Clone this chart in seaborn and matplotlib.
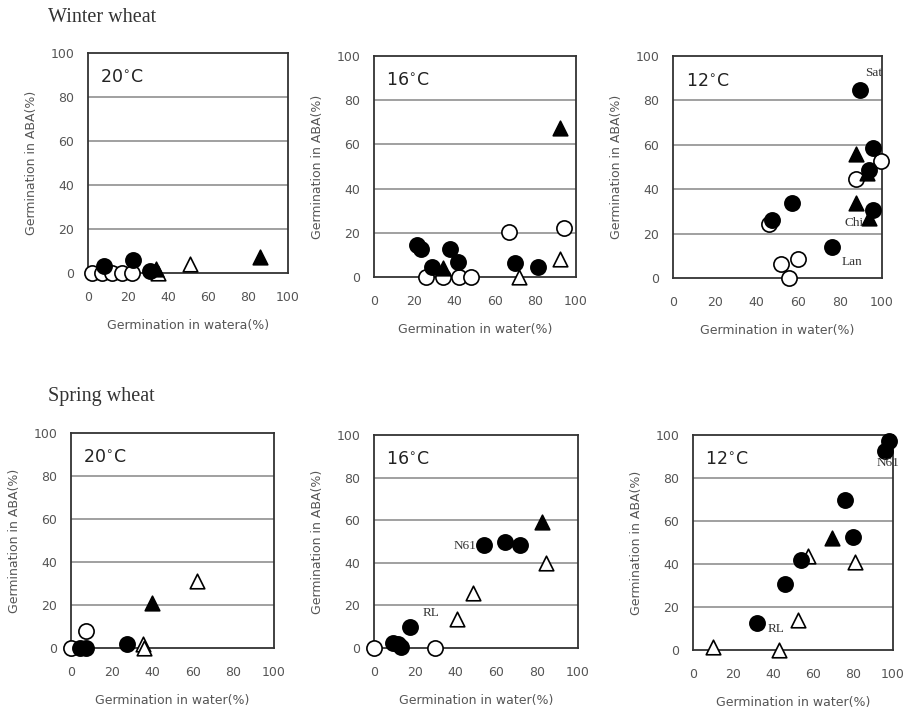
import pandas as pd
import matplotlib.pyplot as plt
import seaborn as sns

sns.set_style("white")
plt.rcParams['font.family'] = ['DejaVu Sans']

# marker kinds: fc = filled circle, oc = open circle, ft = filled triangle, ot = open triangle
# Winter wheat, 20C
w20_x = [2, 7, 12, 17, 22, 8, 22.5, 31, 34, 35, 51, 86]
w20_y = [0, 0, 0, 0, 0, 3, 6, 1, 2, 0, 4, 7.5]
w20_k = ['oc', 'oc', 'oc', 'oc', 'oc', 'fc', 'fc', 'fc', 'ft', 'ot', 'ot', 'ft']

# Winter wheat, 16C
w16_x = [21.5, 23.5, 28.5, 37.5, 41.5, 70, 81, 34, 92, 25.5, 34, 42, 48, 67, 94, 72, 92]
w16_y = [14.5, 12.5, 4.5, 12.5, 7, 6.5, 4.5, 4, 67.5, 0, 0, 0, 0, 20.5, 22, 0, 8]
w16_k = ['fc', 'fc', 'fc', 'fc', 'fc', 'fc', 'fc', 'ft', 'ft', 'oc', 'oc', 'oc', 'oc', 'oc', 'oc', 'ot', 'ot']

# Winter wheat, 12C
w12_x = [89.5, 95.5, 94, 95.5, 57, 47.5, 76, 87.5, 93, 87.5, 94, 99.5, 87.5, 46, 51.5, 60, 55.5]
w12_y = [84.5, 58.5, 48.5, 30.5, 34, 26, 14, 56, 47.5, 34, 27, 52.5, 44.5, 24.5, 6.5, 8.5, 0]
w12_k = ['fc', 'fc', 'fc', 'fc', 'fc', 'fc', 'fc', 'ft', 'ft', 'ft', 'ft', 'oc', 'oc', 'oc', 'oc', 'oc', 'oc']

# Spring wheat, 20C
s20_x = [4.5, 7.5, 27.5, 40, 0, 7.5, 35.5, 36, 62]
s20_y = [0, 0, 2, 21, 0, 8, 2, 0, 31]
s20_k = ['fc', 'fc', 'fc', 'ft', 'oc', 'oc', 'ot', 'ot', 'ot']

# Spring wheat, 16C
s16_x = [54, 64, 71.5, 17.5, 9.5, 12, 13, 82.5, 0, 30, 84.5, 48.5, 40.5]
s16_y = [48.5, 50, 48.5, 10, 2.5, 2, 0.5, 59, 0, 0, 40, 26, 13.5]
s16_k = ['fc', 'fc', 'fc', 'fc', 'fc', 'fc', 'fc', 'ft', 'oc', 'oc', 'ot', 'ot', 'ot']

# Spring wheat, 12C
s12_x = [98, 96, 76, 80, 54, 46, 32, 69.5, 57.5, 81, 52.5, 10, 43]
s12_y = [97, 92.5, 70, 52.5, 42, 30.5, 12.5, 52, 43.5, 41, 14, 1.5, 0]
s12_k = ['fc', 'fc', 'fc', 'fc', 'fc', 'fc', 'fc', 'ft', 'ot', 'ot', 'ot', 'ot', 'ot']

# cultivar labels (text, x, y)
w12_labels = [('Sat', 92, 91), ('Chi', 82, 23.5), ('Lan', 80.5, 6)]
s16_labels = [('N61', 39, 46.5), ('RL', 24, 15)]
s12_labels = [('N61', 92, 85.5), ('RL', 37.5, 8.5)]

styles = {
    'fc': dict(marker='o', facecolor='black', edgecolor='black'),
    'oc': dict(marker='o', facecolor='white', edgecolor='black'),
    'ft': dict(marker='^', facecolor='black', edgecolor='black'),
    'ot': dict(marker='^', facecolor='white', edgecolor='black'),
}

panels = [
    (w20_x, w20_y, w20_k, '20', 'Germination in watera(%)', [], [88, 53, 288, 273]),
    (w16_x, w16_y, w16_k, '16', 'Germination in water(%)', [], [374, 56, 576, 277]),
    (w12_x, w12_y, w12_k, '12', 'Germination in water(%)', w12_labels, [673, 56, 882, 278]),
    (s20_x, s20_y, s20_k, '20', 'Germination in water(%)', [], [71, 433, 274, 648]),
    (s16_x, s16_y, s16_k, '16', 'Germination in water(%)', s16_labels, [374, 435, 578, 648]),
    (s12_x, s12_y, s12_k, '12', 'Germination in water(%)', s12_labels, [693, 435, 893, 650]),
]

W, H = 909, 712
fig = plt.figure(figsize=(W / 100, H / 100), dpi=100)

for xs, ys, ks, temp, xlabel, labels, box in panels:
    l, t, r, b = box
    ax = fig.add_axes([l / W, 1 - b / H, (r - l) / W, (b - t) / H])
    df = pd.DataFrame({'water': xs, 'aba': ys, 'kind': ks})
    for kind in ['oc', 'ot', 'fc', 'ft']:
        sub = df[df['kind'] == kind]
        if len(sub) == 0:
            continue
        st = styles[kind]
        sns.scatterplot(data=sub, x='water', y='aba', ax=ax, marker=st['marker'],
                        facecolor=st['facecolor'], edgecolor=st['edgecolor'],
                        linewidth=1.2, s=120 if st['marker'] == 'o' else 110,
                        clip_on=False, zorder=3)
    for txt, lx, ly in labels:
        ax.text(lx, ly, txt, fontsize=9.5, family='Liberation Serif', color='#333333', zorder=4)

    ax.set_xlim(0, 100)
    ax.set_ylim(0, 100)
    ax.set_xticks(range(0, 101, 20))
    ax.set_yticks(range(0, 101, 20))
    for gy in range(20, 100, 20):
        ax.axhline(gy, color='#999999', lw=1.3, zorder=1)
    for sp in ax.spines.values():
        sp.set_color('#333333')
        sp.set_linewidth(1.3)
    ax.tick_params(axis='x', direction='in', length=3, color='#999999', labelsize=9,
                   labelcolor='#555555', pad=13)
    ax.tick_params(axis='y', length=0, labelsize=9, labelcolor='#555555', pad=10)
    ax.set_xlabel(xlabel, fontsize=9, color='#555555', labelpad=11)
    ax.set_ylabel('Germination in ABA(%)', fontsize=9, color='#555555', labelpad=9)
    ax.text(0.06, 0.93, temp + r'$^{\circ}$C', transform=ax.transAxes, fontsize=12.5,
            color='#222222', va='top', ha='left')

fig.text(48 / W, 1 - 18 / H, 'Winter wheat', family='Liberation Serif', fontsize=14.5,
         color='#333333', va='center')
fig.text(48 / W, 1 - 397 / H, 'Spring wheat', family='Liberation Serif', fontsize=14.5,
         color='#333333', va='center')

fig.savefig('out.png', dpi=100)
